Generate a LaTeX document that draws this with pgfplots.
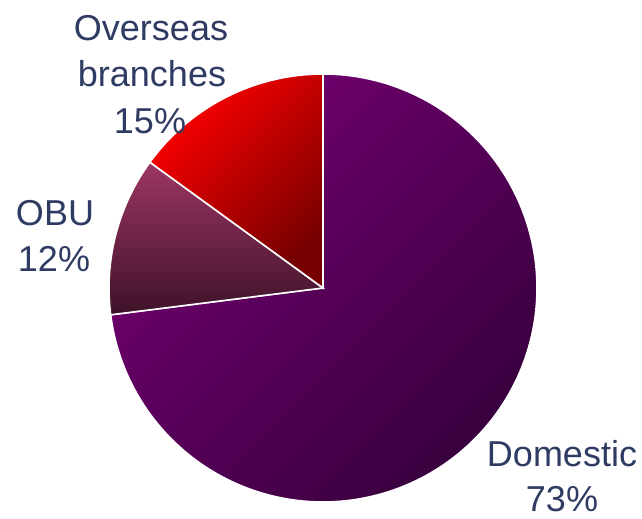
\documentclass[border=0pt]{standalone}
\usepackage{pgfplots}
\pgfplotsset{compat=1.18}
\usepackage{fontspec}
\setmainfont{Liberation Sans}
\definecolor{lbl}{RGB}{47,59,99}
\definecolor{domA}{RGB}{116,0,114}
\definecolor{domB}{RGB}{56,0,62}
\definecolor{obuA}{RGB}{156,54,100}
\definecolor{obuB}{RGB}{62,18,40}
\definecolor{ovsA}{RGB}{255,0,0}
\definecolor{ovsB}{RGB}{118,0,0}
% shares (percent), counterclockwise from 12 o'clock
\def\vOverseas{15}
\def\vOBU{12}
\def\vDomestic{73}
\pgfmathsetmacro{\aZero}{90}
\pgfmathsetmacro{\aOne}{\aZero+3.6*\vOverseas}
\pgfmathsetmacro{\aTwo}{\aOne+3.6*\vOBU}
\pgfmathsetmacro{\aThree}{\aTwo+3.6*\vDomestic}
\def\cx{323}
\def\cy{231}
\def\rr{214}
\begin{document}
\begin{tikzpicture}
\begin{axis}[
  scale only axis, width=642bp, height=519bp,
  xmin=0, xmax=642, ymin=0, ymax=519,
  hide axis, clip=false,
]
\addplot[draw=white, line width=1.6bp, top color=domA, bottom color=domB, shading angle=45,
  domain=\aTwo:\aThree, samples=200, variable=\t]
  ({\cx+\rr*cos(\t)},{\cy+\rr*sin(\t)}) -- (axis cs:\cx,\cy) -- cycle;
\addplot[draw=white, line width=1.6bp, top color=obuA, bottom color=obuB,
  domain=\aOne:\aTwo, samples=60, variable=\t]
  ({\cx+\rr*cos(\t)},{\cy+\rr*sin(\t)}) -- (axis cs:\cx,\cy) -- cycle;
\addplot[draw=white, line width=1.6bp, top color=ovsA, bottom color=ovsB, shading angle=45,
  domain=\aZero:\aOne, samples=60, variable=\t]
  ({\cx+\rr*cos(\t)},{\cy+\rr*sin(\t)}) -- (axis cs:\cx,\cy) -- cycle;
\begin{scope}[every node/.style={anchor=base, text=lbl, font=\fontsize{36bp}{46bp}\selectfont, inner sep=0pt}]
\node at (axis cs:151,478) {Overseas};
\node at (axis cs:152,432) {branches};
\node at (axis cs:150,385) {15\%};
\node at (axis cs:55,293) {OBU};
\node at (axis cs:54,247) {12\%};
\node at (axis cs:562,52) {Domestic};
\node at (axis cs:562,7) {73\%};
\end{scope}
\coordinate (bbA) at (axis cs:0,0);
\coordinate (bbB) at (axis cs:642,519);
\end{axis}
\pgfresetboundingbox
\useasboundingbox (bbA) rectangle (bbB);
\end{tikzpicture}
\end{document}
